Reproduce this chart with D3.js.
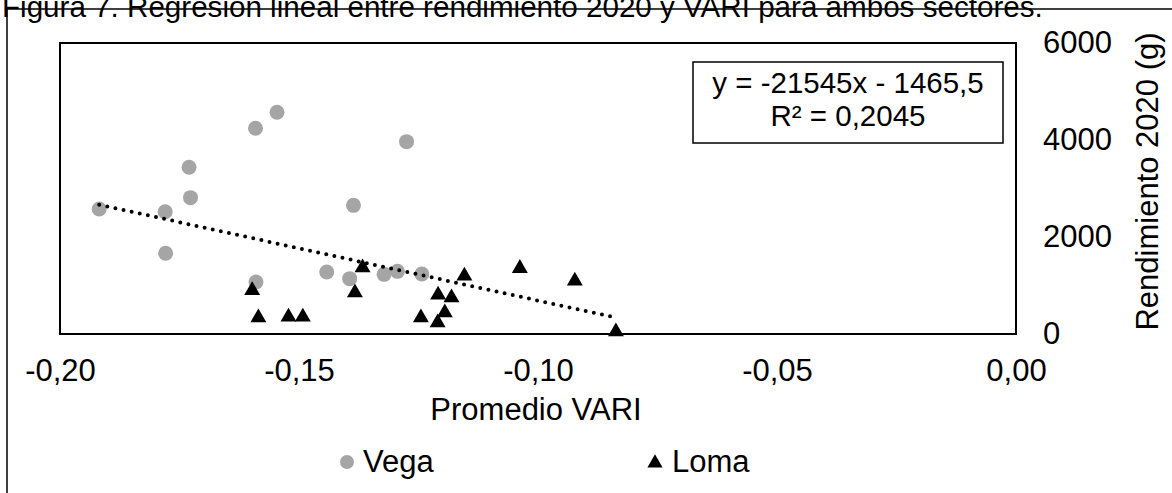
<!DOCTYPE html>
<html>
<head>
<meta charset="utf-8">
<script src="https://cdn.jsdelivr.net/npm/d3@7"></script>
<style>
  body { margin: 0; background: #fff; }
  svg { display: block; font-family: "Liberation Sans", Arial, sans-serif; }
</style>
</head>
<body>
<div id="chart"></div>
<script>
// data
const vegaX = [-0.1918, -0.1780, -0.1779, -0.1730, -0.1727, -0.1591, -0.1546, -0.1590,
               -0.1386, -0.1442, -0.1394, -0.1275, -0.1322, -0.1294, -0.1243];
const vegaY = [2577, 2522, 1664, 3437, 2811, 4241, 4571, 1072,
               2653, 1278, 1141, 3966, 1230, 1292, 1237];
const lomaX = [-0.1598, -0.1585, -0.1522, -0.1492, -0.1383, -0.1367, -0.1245, -0.1209,
               -0.1181, -0.1195, -0.1210, -0.1154, -0.1038, -0.0923, -0.0837];
const lomaY = [921, 357, 371, 371, 873, 1388, 357, 825,
               770, 460, 254, 1217, 1375, 1113, 69];
const xTicks = [-0.20, -0.15, -0.10, -0.05, 0.00];
const yTicks = [0, 2000, 4000, 6000];
const slope = -21545;
const intercept = -1465.5;
const eqLines = ['y = -21545x - 1465,5', 'R² = 0,2045'];
const seriesNames = ['Vega', 'Loma'];

const width = 1172, height = 493;
const plot = { left: 60, right: 1016, top: 43, bottom: 334 };
const fs = 31;

const locale = d3.formatLocale({ decimal: ',', thousands: '', grouping: [3], currency: ['', ''], minus: '-' });
const fmtX = locale.format('.2f');

const svg = d3.select('#chart').append('svg')
  .attr('width', width)
  .attr('height', height);

// outer chart border
svg.append('rect')
  .attr('x', 7).attr('y', 9)
  .attr('width', width + 20).attr('height', height + 20)
  .attr('fill', 'none').attr('stroke', '#000').attr('stroke-width', 1.5);

svg.append('text')
  .attr('x', 2).attr('y', 17)
  .attr('font-size', 29.6)
  .text('Figura 7. Regresión lineal entre rendimiento 2020 y VARI para ambos sectores.');

const x = d3.scaleLinear().domain([-0.2, 0]).range([plot.left, plot.right]);
const y = d3.scaleLinear().domain([0, 6000]).range([plot.bottom, plot.top]);

// x axis labels
const xAxis = svg.append('g')
  .attr('transform', `translate(0,${plot.bottom})`)
  .call(d3.axisBottom(x).tickValues(xTicks).tickSize(0).tickPadding(25).tickFormat(fmtX));
xAxis.select('.domain').remove();
xAxis.selectAll('text')
  .attr('font-size', fs).attr('font-family', null).attr('fill', '#000');

// y axis on the right
const yAxis = svg.append('g')
  .attr('transform', `translate(${plot.right},0)`)
  .call(d3.axisRight(y).tickValues(yTicks).tickSize(0).tickPadding(27).tickFormat(d3.format('d')));
yAxis.select('.domain').remove();
yAxis.selectAll('text')
  .attr('font-size', fs).attr('font-family', null).attr('fill', '#000');

svg.append('rect')
  .attr('x', plot.left).attr('y', plot.top)
  .attr('width', plot.right - plot.left).attr('height', plot.bottom - plot.top)
  .attr('fill', 'none').attr('stroke', '#000').attr('stroke-width', 2);

svg.append('text')
  .attr('x', 536).attr('y', 420)
  .attr('text-anchor', 'middle').attr('font-size', fs)
  .text('Promedio VARI');

svg.append('text')
  .attr('transform', `translate(1158,${(plot.top + plot.bottom) / 2 - 7}) rotate(-90)`)
  .attr('text-anchor', 'middle').attr('font-size', fs)
  .text('Rendimiento 2020 (g)');

const vega = vegaX.map((v, i) => ({ x: v, y: vegaY[i] }));
const loma = lomaX.map((v, i) => ({ x: v, y: lomaY[i] }));

const tri = d3.symbol().type(d3.symbolTriangle).size(110);

svg.append('g').selectAll('circle')
  .data(vega).enter().append('circle')
  .attr('cx', d => x(d.x)).attr('cy', d => y(d.y))
  .attr('r', 7.5).attr('fill', '#a5a5a5');

svg.append('g').selectAll('path')
  .data(loma).enter().append('path')
  .attr('d', tri)
  .attr('transform', d => `translate(${x(d.x)},${y(d.y) + 1})`)
  .attr('fill', '#000');

// trendline
const all = vega.concat(loma);
const xr = d3.extent(all, d => d.x);
svg.append('line')
  .attr('x1', x(xr[0])).attr('y1', y(slope * xr[0] + intercept))
  .attr('x2', x(xr[1])).attr('y2', y(slope * xr[1] + intercept))
  .attr('stroke', '#000').attr('stroke-width', 4)
  .attr('stroke-linecap', 'round').attr('stroke-dasharray', '0 8.3');

// equation box
svg.append('rect')
  .attr('x', 693).attr('y', 62).attr('width', 310).attr('height', 81)
  .attr('fill', '#fff').attr('stroke', '#000').attr('stroke-width', 1.5);
svg.append('g').selectAll('text')
  .data(eqLines).enter().append('text')
  .attr('x', 848).attr('y', (d, i) => 93 + i * 33)
  .attr('text-anchor', 'middle').attr('font-size', 29.5)
  .text(d => d);

// legend
const leg = svg.append('g');
leg.append('circle').attr('cx', 347).attr('cy', 462).attr('r', 7).attr('fill', '#a5a5a5');
leg.append('path').attr('d', d3.symbol().type(d3.symbolTriangle).size(100))
  .attr('transform', 'translate(655,463)').attr('fill', '#000');
leg.selectAll('text')
  .data(seriesNames).enter().append('text')
  .attr('x', (d, i) => i === 0 ? 363 : 672).attr('y', 472)
  .attr('font-size', fs)
  .text(d => d);
</script>
</body>
</html>
